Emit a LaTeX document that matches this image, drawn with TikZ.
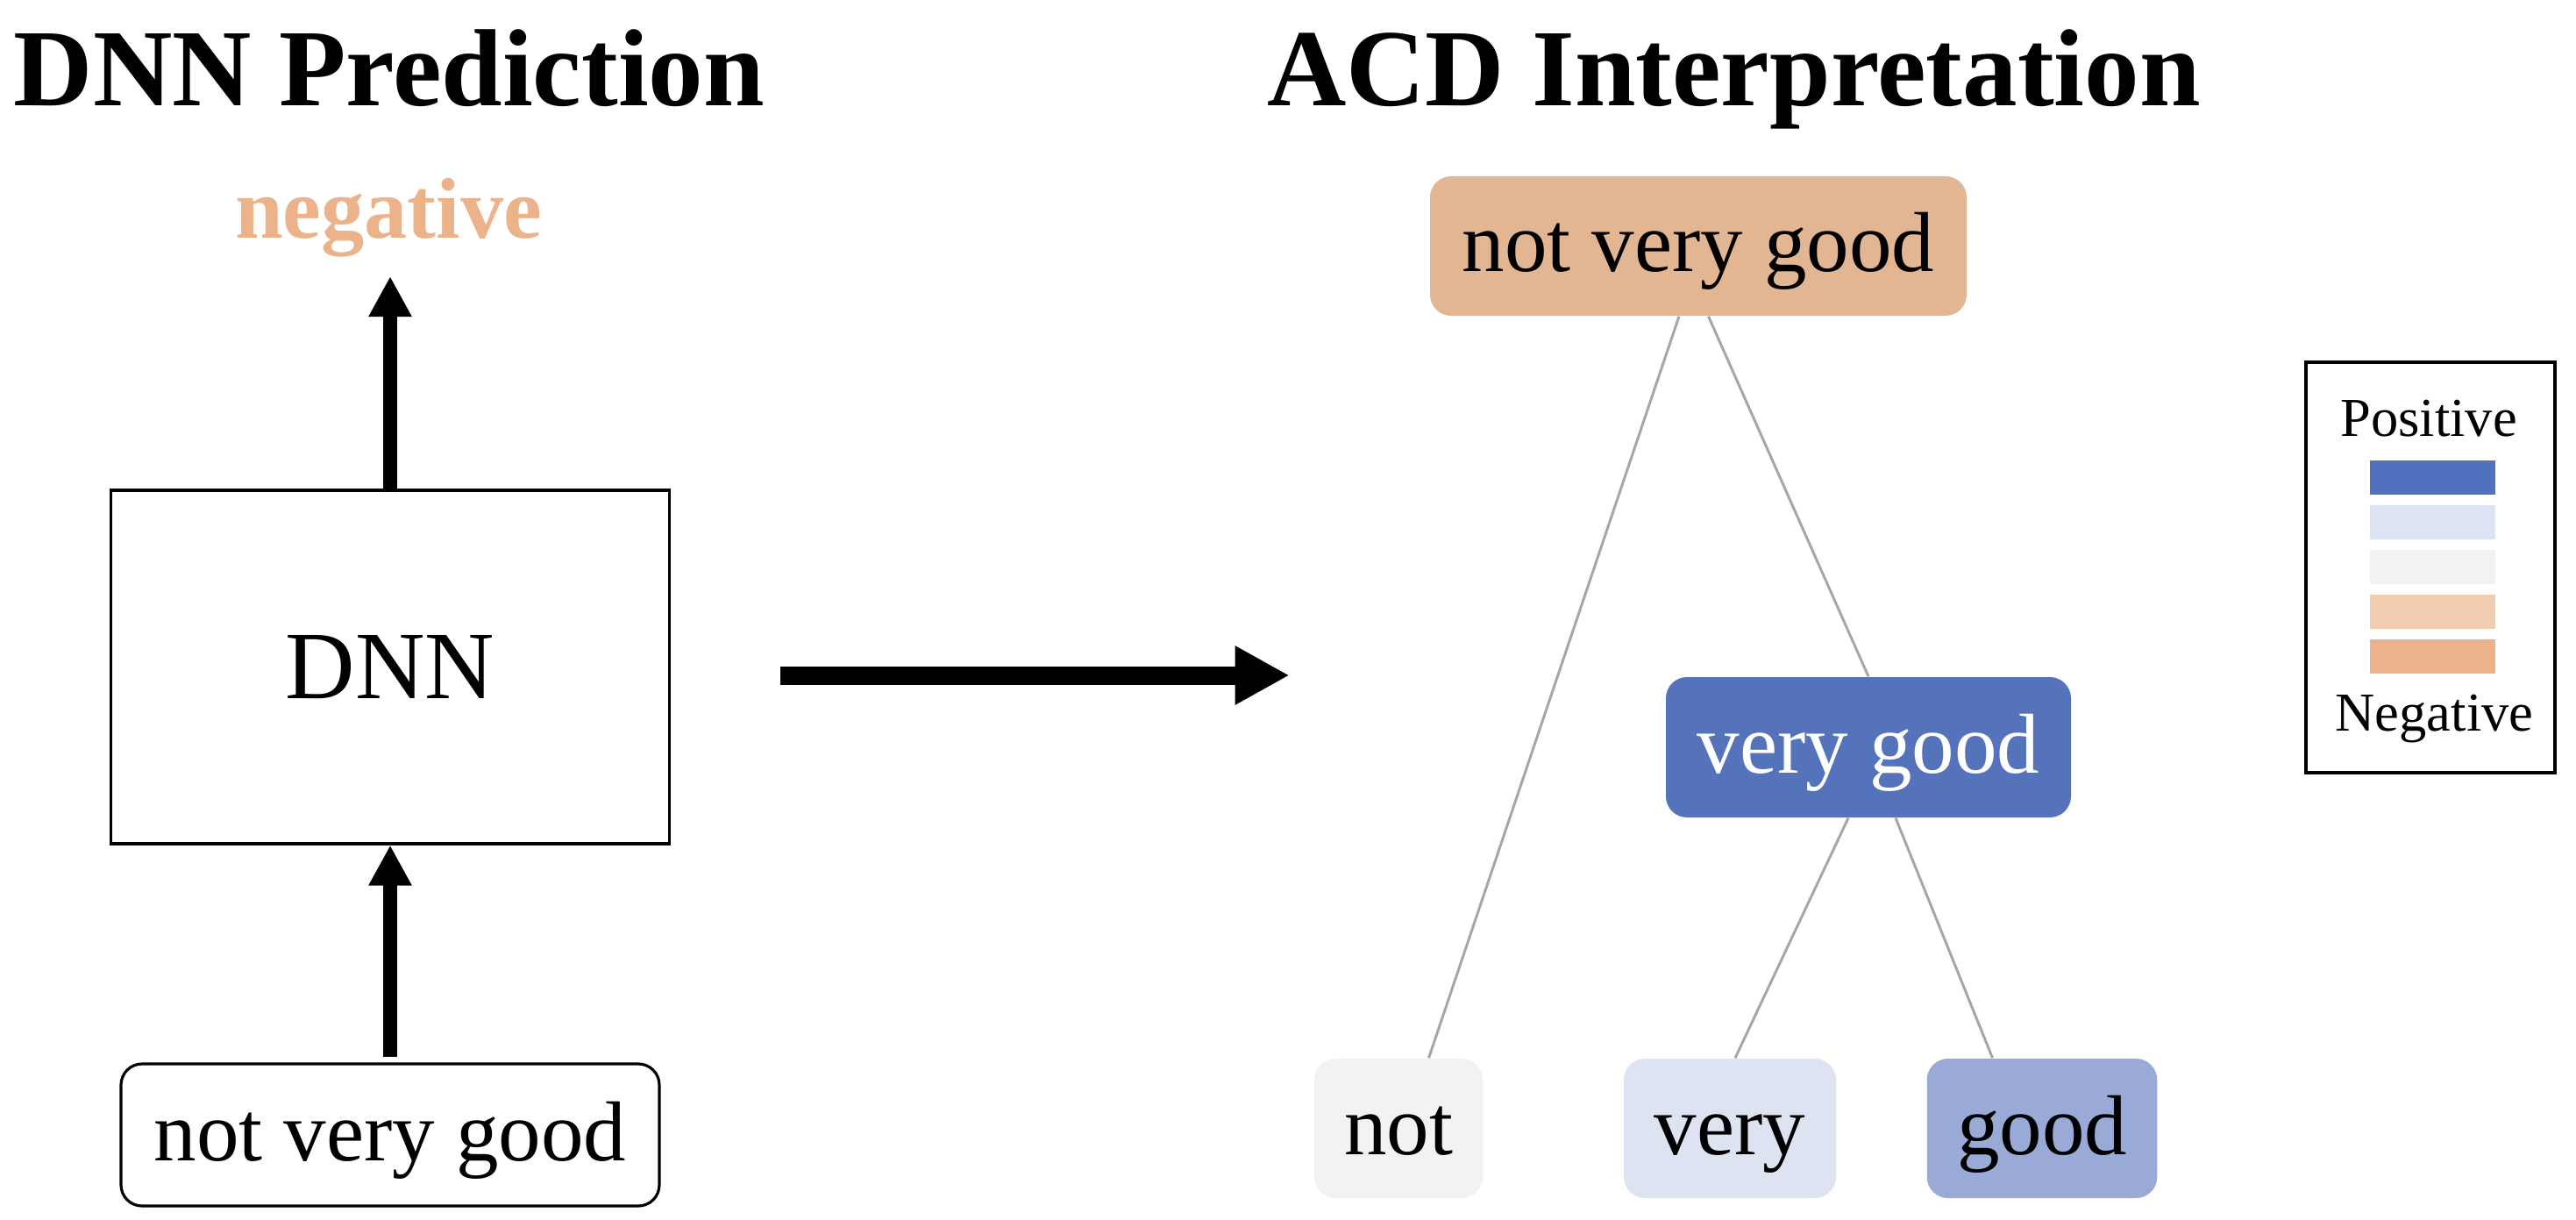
\documentclass[tikz,border=0pt]{standalone}
\usepackage{fontspec}
\setmainfont{Liberation Serif}
\usetikzlibrary{positioning}
\usetikzlibrary{calc}
\usetikzlibrary{arrows.meta}

\definecolor{predtext}{HTML}{ECB38A}
\definecolor{rootfill}{HTML}{E2B593}
\definecolor{vgfill}{HTML}{5573BA}
\definecolor{notfill}{HTML}{F2F2F2}
\definecolor{veryfill}{HTML}{DDE3F1}
\definecolor{goodfill}{HTML}{98AAD5}
\definecolor{linegray}{HTML}{A6A6A6}
\definecolor{legone}{HTML}{4F71BE}
\definecolor{legtwo}{HTML}{DCE3F2}
\definecolor{legthree}{HTML}{F2F2F2}
\definecolor{legfour}{HTML}{F2CCB0}
\definecolor{legfive}{HTML}{ECB38A}

\tikzset{
	wordbox/.style={rounded corners=0.24cm, inner sep=0pt, minimum height=1.59cm, text height=0.8cm, text depth=0.21cm, font=\fontsize{27.6}{30}\selectfont},
	titletext/.style={anchor=base, font=\fontsize{35.6}{40}\selectfont\bfseries},
	treeline/.style={draw=linegray, line width=0.85pt},
	fatarrow/.style={line width=0.16cm, -{Triangle[length=4.6mm,width=4.6mm]}},
}

\begin{document}
\begin{tikzpicture}
		\useasboundingbox (0,0) rectangle (29.38,13.9);
		\node [titletext] (lefttitle) at (4.44,12.70) {DNN Prediction};
		\node [titletext] (righttitle) at (19.775,12.70) {ACD Interpretation};
		% left half: the model
		\node at (4.45,6.295) [draw, line width=0.9pt, minimum width=6.37cm, minimum height=4.03cm, font=\fontsize{31.3}{34}\selectfont] (dnn) {DNN};
		\node at (4.45,0.96) [wordbox, draw, line width=0.9pt, minimum width=6.14cm, minimum height=1.62cm] (input) {not very good};
		\node at (4.43,11.19) [anchor=base, text=predtext, font=\fontsize{28}{30}\selectfont\bfseries] (pred) {negative};
		\coordinate (predtip) at (4.45,10.75);
		\draw [fatarrow] (dnn.north) -- (predtip);
		\draw [fatarrow, shorten <=0.06cm] (input.north) -- (dnn.south);
		\coordinate (mapfrom) at (8.90,6.20);
		\coordinate (mapto) at (14.706,6.20);
		\draw [line width=0.21cm, -{Triangle[length=6.2mm,width=6.3mm]}] (mapfrom) -- (mapto);
		% right half: the tree
		\node at (19.37,11.095) [wordbox, fill=rootfill, minimum width=6.12cm] (root) {not very good};
		\node at (21.31,5.38) [wordbox, fill=vgfill, text=white, minimum width=4.62cm, minimum height=1.60cm] (vg) {very good};
		\node at (15.95,1.035) [wordbox, fill=notfill, minimum width=1.92cm] (not) {not};
		\node at (19.73,1.035) [wordbox, fill=veryfill, minimum width=2.42cm] (very) {very};
		\node at (23.29,1.035) [wordbox, fill=goodfill, minimum width=2.625cm] (good) {good};
		\draw [treeline] ([xshift=-0.22cm]root.south) -- ([xshift=0.345cm]not.north);
		\draw [treeline] ([xshift=0.115cm]root.south) -- (vg.north);
		\draw [treeline] ([xshift=-0.23cm]vg.south) -- ([xshift=0.06cm]very.north);
		\draw [treeline] ([xshift=0.31cm]vg.south) -- ([xshift=-0.565cm]good.north);
		% legend
		\node at (27.72,7.43) [draw, line width=1pt, minimum width=2.84cm, minimum height=4.68cm] (legend) {};
		\node at (27.70,8.93) [anchor=base, font=\fontsize{17.8}{20}\selectfont] (postext) {Positive};
		\node at (27.765,5.57) [anchor=base, font=\fontsize{17.8}{20}\selectfont] (negtext) {Negative};
		\foreach \barcolor [count=\i] in {legone,legtwo,legthree,legfour,legfive} {
			\node at (27.745,{8.965-0.51*\i}) [fill=\barcolor, minimum width=1.43cm, minimum height=0.39cm, inner sep=0pt] (bar\i) {};
		}
		\end{tikzpicture}
\end{document}
